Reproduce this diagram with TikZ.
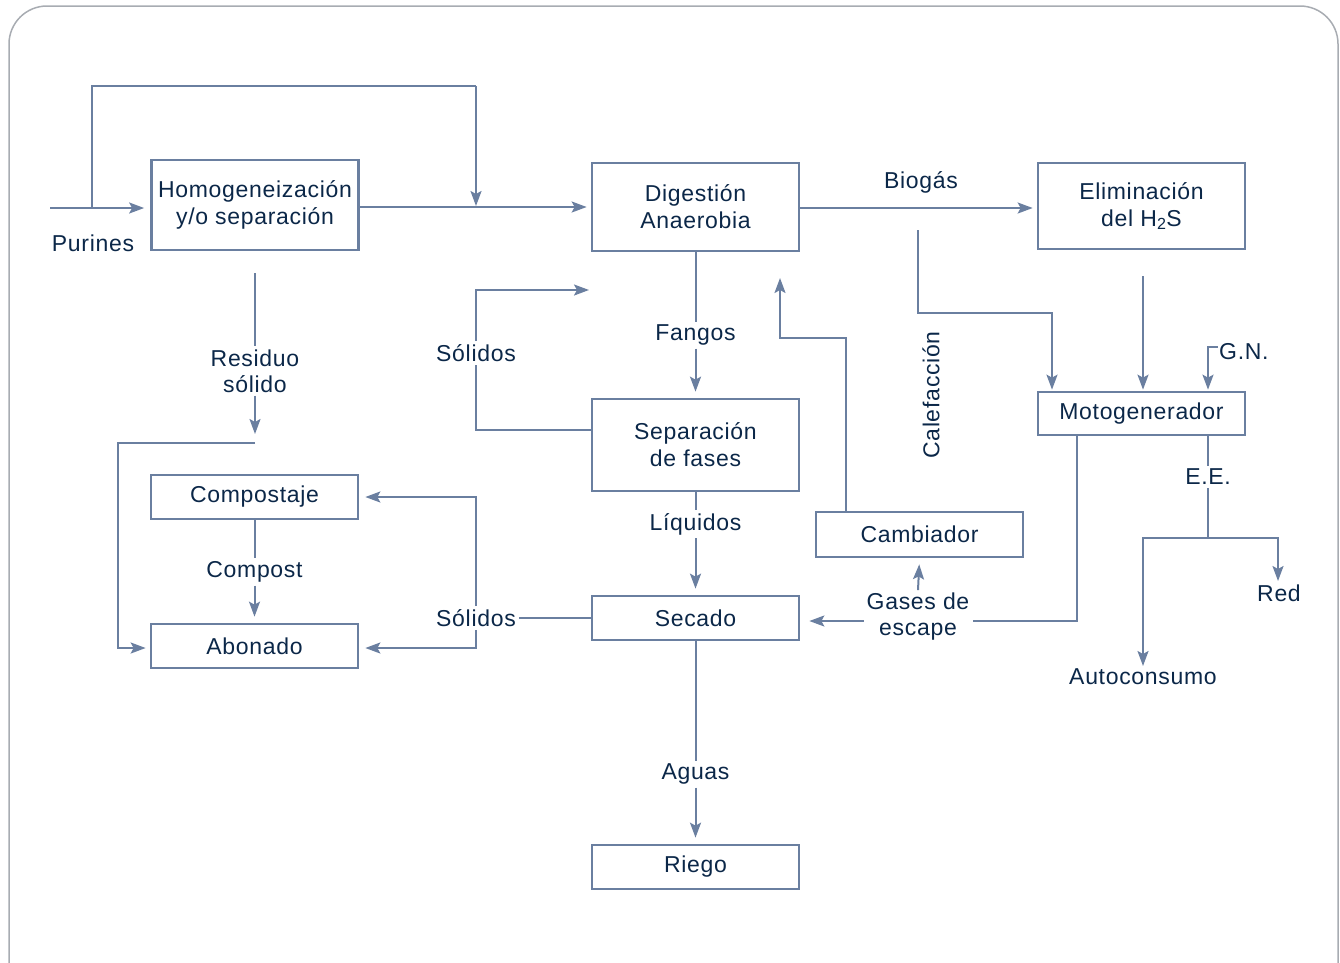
\documentclass[tikz,border=0pt]{standalone}
\usepackage{fontspec}
\setmainfont{Liberation Sans}[LetterSpace=3]
\usetikzlibrary{arrows.meta}
\definecolor{ln}{HTML}{6A7FA0}
\definecolor{tx}{HTML}{0B2748}
\definecolor{fr}{HTML}{A8ACB2}
\begin{document}
\begin{tikzpicture}[x=1pt,y=-1pt,
  box/.style={draw=ln, line width=2.7pt, minimum width=207pt, inner sep=0pt, align=center, text=tx, font=\fontsize{23}{27}\selectfont},
  lbl/.style={text=tx, align=center, inner sep=3pt, font=\fontsize{23}{26}\selectfont},
  con/.style={draw=ln, line width=2pt},
  arr/.style={con, -{Stealth[length=15pt,width=11pt,inset=3pt]}},
  gap/.style={shorten >=6pt}]
\useasboundingbox (0,0) rectangle (1340,962);
\clip (0,0) rectangle (1340,962);
\draw[fr, line width=1.5pt, rounded corners=38pt] (9,6) rectangle (1338,1010);

% boxes
\node[box, minimum height=90pt] (homog) at (255,205) {Homogeneización\\y/o separación};
\node[box, minimum height=88pt] (dig) at (695.5,207) {Digestión\\Anaerobia};
\node[box, minimum height=86pt] (elim) at (1141.5,206) {Eliminación\\del H\textsubscript{2}S};
\node[box, minimum height=92pt] (sep) at (695.5,445) {Separación\\de fases};
\node[box, minimum height=45pt] (camb) at (919.5,534.5) {Cambiador};
\node[box, minimum height=44pt] (sec) at (695.5,618) {Secado};
\node[box, minimum height=44pt] (riego) at (695.5,867) {Riego};
\node[box, minimum height=44pt] (comp) at (254.5,497) {Compostaje};
\node[box, minimum height=44pt] (abon) at (254.5,646) {Abonado};
\node[box, minimum height=43pt] (moto) at (1141.5,413.5) {Motogenerador};

% labels
\node[lbl] (purines) at (93,243) {Purines};
\node[lbl] (biogas) at (921,182) {Biogás};
\node[lbl, rotate=90] (calef) at (931,395) {Calefacción};
\node[lbl, anchor=west, inner sep=1pt] (gn) at (1218,352) {G.N.};
\node[lbl] (ee) at (1208,477) {E.E.};
\node[lbl] (red) at (1279,593) {Red};
\node[lbl] (auto) at (1143,677) {Autoconsumo};
\node[lbl] (gases) at (918,617) {Gases de\\escape};
\node[lbl] (fangos) at (695.5,335) {Fangos};
\node[lbl] (sol1) at (476,353) {Sólidos};
\node[lbl] (liq) at (695.5,524) {Líquidos};
\node[lbl] (sol2) at (476,618) {Sólidos};
\node[lbl] (aguas) at (695.5,774) {Aguas};
\node[lbl] (res) at (255,371) {Residuo\\sólido};
\node[lbl] (compost) at (254.5,572) {Compost};

% coordinates
\coordinate (pin) at (50,208);
\coordinate (byA) at (92,208);
\coordinate (byB) at (476,86);
\coordinate (byC) at (476,206);
\coordinate (calA) at (918,230);
\coordinate (calB) at (1052,313);
\coordinate (elA) at (1143,276);
\coordinate (gnA) at (1218,347);
\coordinate (gnB) at (1208,347);
\coordinate (eeT) at (1208,538);
\coordinate (autoT) at (1143,666);
\coordinate (redT) at (1278,581);
\coordinate (gsA) at (1077,621);
\coordinate (gsB) at (gases.east |- gsA);
\coordinate (gsC) at (gases.west |- gsA);
\coordinate (cbX) at (846,338);
\coordinate (cbT) at (780,278);
\coordinate (s1A) at (476,430);
\coordinate (s1T) at (589,290);
\coordinate (rA) at (255,273);
\coordinate (rT) at (255,434);
\coordinate (rB) at (255,443);
\coordinate (rC) at (118,443);

% connectors
\draw[arr, gap] (pin) -- (pin -| homog.west);
\draw[con] (byA) |- (byB);
\draw[arr] (byB) -- (byC);
\draw[arr, shorten >=4pt] (homog.east |- dig.east) -- (dig.west);
\draw[arr, shorten >=4pt] (dig.east |- 0,208) -- (elim.west |- 0,208);
\draw[arr, shorten >=1pt] (calA) |- (calB) -- (calB |- moto.north);
\draw[arr, shorten >=1pt] (elA) -- (elA |- moto.north);
\draw[arr, shorten >=1pt] (gnA) -- (gnB) -- (gnB |- moto.north);
\draw[con] (moto.south -| eeT) -- (ee.north);
\draw[con] (ee.south) -- (eeT);
\draw[arr] (eeT) -| (autoT);
\draw[arr] (eeT) -| (redT);
\draw[con] (moto.south -| gsA) -- (gsA) -- (gsB);
\draw[arr, shorten >=9pt] (gsC) -- (gsC -| sec.east);
\draw[arr, gap] (gases.north) -- (camb.south);
\draw[arr] (camb.north -| cbX) -- (cbX) -| (cbT);
\draw[con] (dig.south) -- (fangos.north);
\draw[arr, gap] (fangos.south) -- (sep.north);
\draw[con] (s1A -| sep.west) -- (s1A) -- (sol1.south);
\draw[arr] (sol1.north) |- (s1T);
\draw[con] (sep.south) -- (liq.north);
\draw[arr, gap] (liq.south) -- (sec.north);
\draw[con] (sec.west) -- (sol2.east);
\draw[arr, gap] (sol2.north) |- (comp.east);
\draw[arr, gap] (sol2.south) |- (abon.east |- 0,648);
\draw[con] (sec.south) -- (aguas.north);
\draw[arr, gap] (aguas.south) -- (riego.north);
\draw[con] (rA) -- (res.north);
\draw[arr] (res.south) -- (rT);
\draw[arr, shorten >=4pt] (rB) -- (rC) |- (abon.west |- 0,648);
\draw[con] (comp.south) -- (compost.north);
\draw[arr, gap] (compost.south) -- (abon.north);
\end{tikzpicture}
\end{document}
